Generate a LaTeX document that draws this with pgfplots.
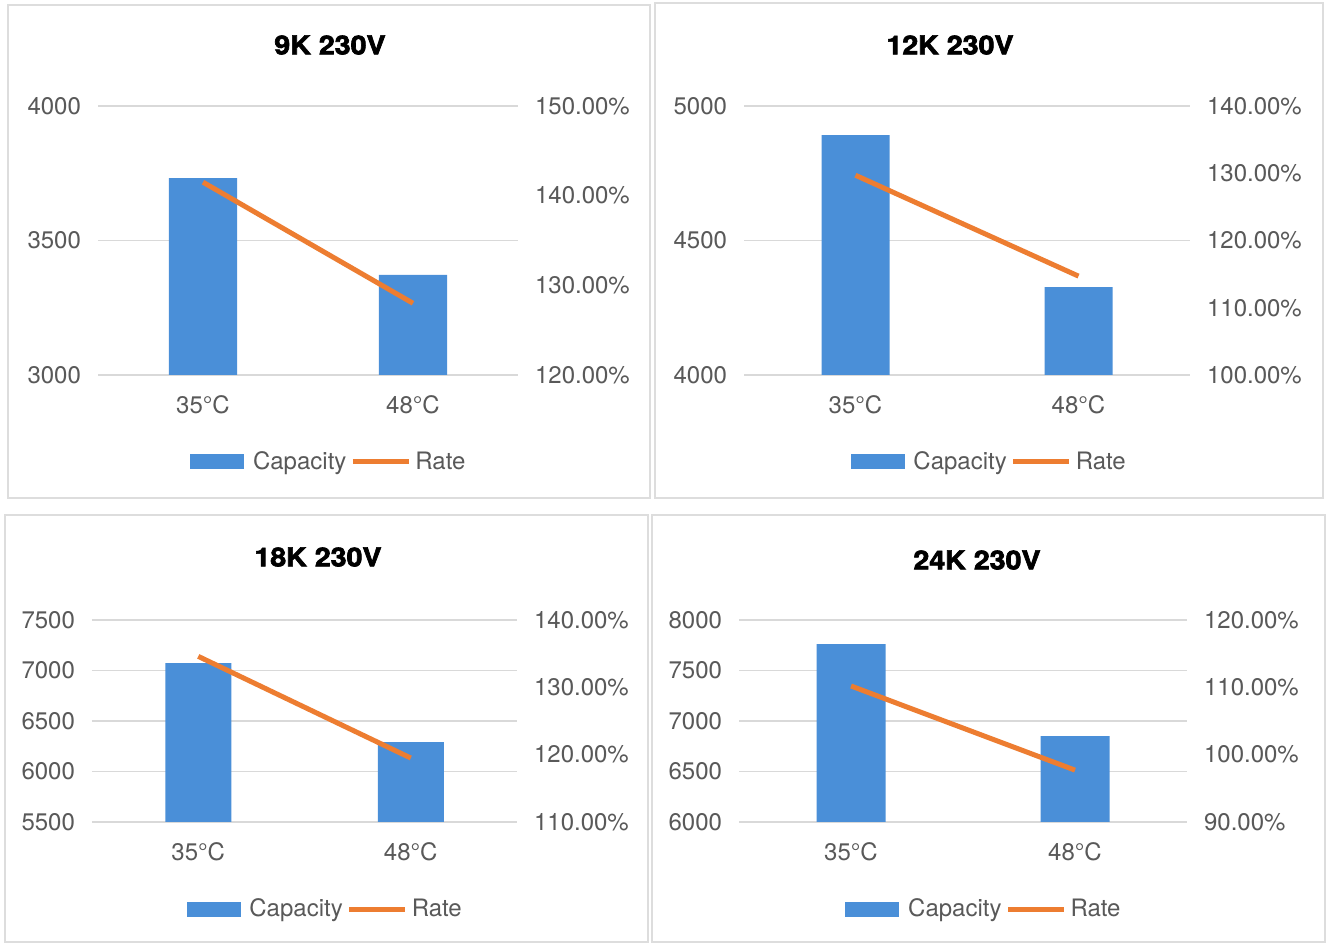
\documentclass[border=0pt]{standalone}
\usepackage{fontspec}
\setmainfont{TeX Gyre Heros}
\newfontfamily\titlefont[FakeBold=2.6,FakeStretch=1.1]{TeX Gyre Heros}
\usepackage{pgfplots}
\pgfplotsset{compat=1.18}
\definecolor{capblue}{HTML}{4A8FD8}
\definecolor{rateorange}{HTML}{ED7D31}
\definecolor{gridgray}{HTML}{D9D9D9}
\definecolor{framegray}{HTML}{DDDDDD}
\definecolor{ticktext}{HTML}{595959}

\pgfplotsset{
  base/.style={
    scale only axis,
    xmin=-0.5, xmax=1.5,
    axis line style={draw=none},
    major tick length=0pt,
    tick label style={font=\fontsize{12}{14}\selectfont, text=ticktext},
    /pgf/number format/assume math mode=true,
    /pgf/number format/1000 sep={},
  },
  leftax/.style={
    base,
    xtick={0,1}, xticklabels={35°C,48°C},
    xticklabel style={yshift=-7pt},
    ymajorgrids, grid style={gridgray, line width=0.7pt},
    yticklabel style={xshift=-5pt},
  },
  rightax/.style={
    base,
    hide x axis,
    yticklabel pos=right,
    yticklabel style={xshift=5pt},
    legend style={draw=none, fill=none, legend columns=-1,
      font=\fontsize{12}{14}\selectfont, text=ticktext, anchor=center},
  },
  capleg/.style={legend image code/.code={\fill[capblue] (0pt,-3.5pt) rectangle (26.5pt,3.5pt);\path (29pt,0pt);}},
  rateleg/.style={legend image code/.code={\draw[rateorange, line width=2.5pt] (0.5pt,0pt) -- (28.5pt,0pt);}},
}

\begin{document}
\begin{tikzpicture}
\useasboundingbox[fill=white] (0,0) rectangle (664pt,473pt);
% frames
\draw[framegray, line width=0.8pt] (4pt,224pt) rectangle (325pt,470.5pt);
\draw[framegray, line width=0.8pt] (327.5pt,224pt) rectangle (661.5pt,471.5pt);
\draw[framegray, line width=0.8pt] (2.5pt,2pt) rectangle (324pt,215.5pt);
\draw[framegray, line width=0.8pt] (326pt,2pt) rectangle (662.5pt,215.5pt);

% ---------- Panel 1: 9K 230V ----------
\begin{axis}[leftax, at={(49pt,285.5pt)}, anchor=south west, width=210pt, height=134.5pt,
  ymin=3000, ymax=4000, ytick={3000,3500,4000}]
\addplot[ybar, bar width=34pt, fill=capblue, draw=none] coordinates {(0,3732) (1,3372)};
\end{axis}
\begin{axis}[rightax, at={(49pt,285.5pt)}, anchor=south west, width=210pt, height=134.5pt,
  ymin=120, ymax=150, ytick={120,130,140,150},
  yticklabels={120.00\%,130.00\%,140.00\%,150.00\%},
  legend style={at={(0.552,-0.323)}}]
\addlegendimage{capleg}\addlegendentry{Capacity}
\addplot[rateorange, line width=2.5pt, rateleg] coordinates {(0,141.5) (1,128.0)};
\addlegendentry{Rate}
\end{axis}

% ---------- Panel 2: 12K 230V ----------
\begin{axis}[leftax, at={(372pt,285.5pt)}, anchor=south west, width=223pt, height=134.5pt,
  ymin=4000, ymax=5000, ytick={4000,4500,5000}]
\addplot[ybar, bar width=34pt, fill=capblue, draw=none] coordinates {(0,4892) (1,4327)};
\end{axis}
\begin{axis}[rightax, at={(372pt,285.5pt)}, anchor=south west, width=223pt, height=134.5pt,
  ymin=100, ymax=140, ytick={100,110,120,130,140},
  yticklabels={100.00\%,110.00\%,120.00\%,130.00\%,140.00\%},
  legend style={at={(0.552,-0.323)}}]
\addlegendimage{capleg}\addlegendentry{Capacity}
\addplot[rateorange, line width=2.5pt, rateleg] coordinates {(0,129.7) (1,114.7)};
\addlegendentry{Rate}
\end{axis}

% ---------- Panel 3: 18K 230V ----------
\begin{axis}[leftax, at={(46pt,62pt)}, anchor=south west, width=212.5pt, height=101pt,
  ymin=5500, ymax=7500, ytick={5500,6000,6500,7000,7500}]
\addplot[ybar, bar width=33pt, fill=capblue, draw=none] coordinates {(0,7074) (1,6292)};
\end{axis}
\begin{axis}[rightax, at={(46pt,62pt)}, anchor=south west, width=212.5pt, height=101pt,
  ymin=110, ymax=140, ytick={110,120,130,140},
  yticklabels={110.00\%,120.00\%,130.00\%,140.00\%},
  legend style={at={(0.551,-0.431)}}]
\addlegendimage{capleg}\addlegendentry{Capacity}
\addplot[rateorange, line width=2.5pt, rateleg] coordinates {(0,134.6) (1,119.5)};
\addlegendentry{Rate}
\end{axis}

% ---------- Panel 4: 24K 230V ----------
\begin{axis}[leftax, at={(369.5pt,62pt)}, anchor=south west, width=224pt, height=101pt,
  ymin=6000, ymax=8000, ytick={6000,6500,7000,7500,8000}]
\addplot[ybar, bar width=34.5pt, fill=capblue, draw=none] coordinates {(0,7762) (1,6851)};
\end{axis}
\begin{axis}[rightax, at={(369.5pt,62pt)}, anchor=south west, width=224pt, height=101pt,
  ymin=90, ymax=120, ytick={90,100,110,120},
  yticklabels={90.00\%,100.00\%,110.00\%,120.00\%},
  legend style={at={(0.549,-0.431)}}]
\addlegendimage{capleg}\addlegendentry{Capacity}
\addplot[rateorange, line width=2.5pt, rateleg] coordinates {(0,110.2) (1,97.7)};
\addlegendentry{Rate}
\end{axis}

% titles
\node[font=\titlefont\bfseries\fontsize{13}{15}\selectfont] at (165pt,450.5pt) {9K 230V};
\node[font=\titlefont\bfseries\fontsize{13}{15}\selectfont] at (475pt,450.5pt) {12K 230V};
\node[font=\titlefont\bfseries\fontsize{13}{15}\selectfont] at (159pt,194.5pt) {18K 230V};
\node[font=\titlefont\bfseries\fontsize{13}{15}\selectfont] at (488.5pt,193pt) {24K 230V};
\end{tikzpicture}
\end{document}
